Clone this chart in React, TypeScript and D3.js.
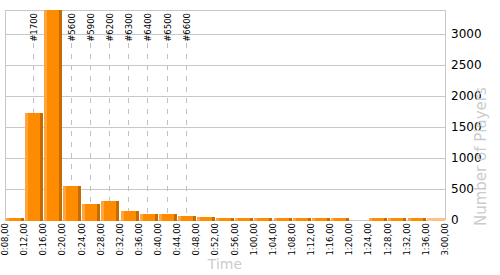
import React from "react";
import * as d3 from "d3";

const tickLabels = [
  "0:08,00", "0:12,00", "0:16,00", "0:20,00", "0:24,00", "0:28,00", "0:32,00",
  "0:36,00", "0:40,00", "0:44,00", "0:48,00", "0:52,00", "0:56,00", "1:00,00",
  "1:04,00", "1:08,00", "1:12,00", "1:16,00", "1:20,00", "1:24,00", "1:28,00",
  "1:32,00", "1:36,00", "3:00,00",
];
// one value per bin (bin i spans tickLabels[i] .. tickLabels[i+1])
const counts = [30, 1725, 3400, 550, 262, 305, 150, 102, 102, 64, 48, 30, 30, 28, 28, 28, 28, 28, 0, 28, 28, 28, 28];
const markerBins = ["0:12,00", "0:20,00", "0:24,00", "0:28,00", "0:32,00", "0:36,00", "0:40,00", "0:44,00"];
const markerLabels = ["#1700", "#5600", "#5900", "#6200", "#6300", "#6400", "#6500", "#6600"];
const yTicks = [0, 500, 1000, 1500, 2000, 2500, 3000];

const W = 500, H = 275;
const L = 5, R = 445, T = 10, B = 220;
const FONT = "'DejaVu Sans', Verdana, sans-serif";

export default function App() {
  const bins = tickLabels.slice(0, counts.length);
  const xBand = d3.scaleBand<string>().domain(bins).range([L, R]).padding(0);
  const xEdge = d3.scaleLinear().domain([0, counts.length]).range([L, R]);
  const y = d3.scaleLinear().domain([0, 3380]).range([B, T]).clamp(true);
  const bw = xBand.bandwidth();
  const crisp = (v: number) => Math.round(v) + 0.5;

  return (
    <svg width={W} height={H} style={{ position: "absolute", left: 0, top: 0, background: "#fff" }} fontFamily={FONT}>
      {/* grid */}
      {yTicks.map((t) => (
        <line key={t} x1={L} x2={R} y1={crisp(y(t))} y2={crisp(y(t))} stroke="#c8c8c8" strokeWidth={1} />
      ))}
      <line x1={L} x2={R} y1={T + 0.5} y2={T + 0.5} stroke="#c8c8c8" />
      <line x1={L + 0.5} x2={L + 0.5} y1={T} y2={B} stroke="#c8c8c8" />
      <line x1={R + 0.5} x2={R + 0.5} y1={T} y2={B} stroke="#c8c8c8" />

      {/* markers */}
      {markerBins.map((b, i) => {
        const cx = (xBand(b) as number) + bw / 2;
        return (
          <g key={b}>
            <line x1={crisp(cx) - 1} x2={crisp(cx) - 1} y1={43} y2={B} stroke="#c0c0c0" strokeDasharray="5,6" />
            <text
              transform={`translate(${cx},13) rotate(-90)`}
              textAnchor="end"
              dy="0.35em"
              fontSize={8.5}
              fill="#000"
            >
              {markerLabels[i]}
            </text>
          </g>
        );
      })}

      {/* bars */}
      {counts.map((v, i) => {
        const x0 = Math.round((xBand(bins[i]) as number) + 0.8);
        const w = Math.round(bw - 1.2);
        const y0 = Math.round(y(v));
        const h = B + 1 - y0;
        if (v <= 0) return null;
        const last = i === counts.length - 1;
        if (last) {
          return <rect key={i} x={x0} y={y0} width={w} height={h} fill="#ffc285" />;
        }
        return (
          <g key={i}>
            <rect x={x0} y={y0} width={w} height={h} fill="#ff8c00" />
            <rect x={x0} y={y0} width={3} height={h} fill="#ffa53f" />
            <rect x={x0 + w - 3} y={y0} width={3} height={h} fill="#c46c00" />
          </g>
        );
      })}

      {/* y tick labels */}
      {yTicks.map((t) => (
        <text key={t} x={451} y={y(t)} dy="0.35em" fontSize={12} fill="#000">
          {t}
        </text>
      ))}

      {/* x tick labels */}
      {tickLabels.map((lab, i) => (
        <text
          key={lab}
          transform={`translate(${xEdge(i)},223) rotate(-90)`}
          textAnchor="end"
          dy="0.35em"
          fontSize={8.5}
          fill="#000"
        >
          {lab}
        </text>
      ))}

      {/* axis titles */}
      <text x={(L + R) / 2} y={269} textAnchor="middle" fontSize={14} fill="#cccccc">
        Time
      </text>
      <text transform="translate(486,226) rotate(-90)" textAnchor="start" fontSize={15} fill="#cccccc">
        Number of Players
      </text>
    </svg>
  );
}
